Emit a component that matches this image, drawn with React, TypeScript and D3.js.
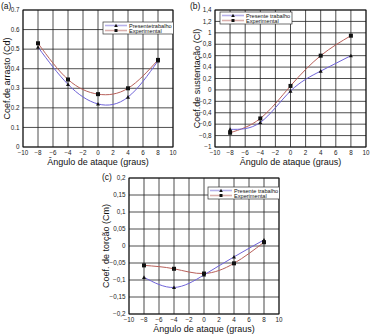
import React from "react";
import * as d3 from "d3";

const angles = [-8, -4, 0, 4, 8];
const cdPresente = [0.51, 0.32, 0.22, 0.255, 0.44];
const cdExperimental = [0.53, 0.345, 0.27, 0.3, 0.445];
const clPresente = [-0.69, -0.57, -0.02, 0.33, 0.6];
const clExperimental = [-0.75, -0.5, 0.07, 0.6, 0.95];
const cmPresente = [-0.092, -0.122, -0.085, -0.032, 0.018];
const cmExperimental = [-0.057, -0.067, -0.081, -0.051, 0.011];

const xTicks = [-10, -8, -6, -4, -2, 0, 2, 4, 6, 8, 10];
const cdTicks = [0, 0.1, 0.2, 0.3, 0.4, 0.5, 0.6, 0.7];
const cdTickLabels = ["0", "0.1", "0.2", "0.3", "0.4", "0.5", "0.6", "0.7"];
const clTicks = [-1, -0.8, -0.6, -0.4, -0.2, 0, 0.2, 0.4, 0.6, 0.8, 1, 1.2, 1.4];
const clTickLabels = ["−1", "−0,8", "−0,6", "−0,4", "−0,2", "0", "0,2", "0,4", "0,6", "0,8", "1", "1,2", "1,4"];
const cmTicks = [-0.2, -0.15, -0.1, -0.05, 0, 0.05, 0.1, 0.15, 0.2];
const cmTickLabels = ["−0,2", "−0,15", "−0,1", "−0,05", "0", "0,05", "0,1", "0,15", "0,2"];

const seriesNames = ["Presente trabalho", "Experimental"];
const seriesNamesA = ["Presentetrabalho", "Experimental"];

const BLUE = "#6f63d8";
const RED = "#b8605a";
const FONT = "Liberation Sans, Arial, sans-serif";

type PanelProps = {
  label: string;
  left: number; right: number; top: number; bottom: number;
  yDomain: [number, number];
  yTicks: number[]; yTickLabels: string[];
  s1: number[]; s2: number[];
  yTitle: string;
  legend: { x: number; y: number; w: number; names: string[] };
  labelPos: [number, number];
  yTitleX: number;
  thick: number[];
};

function Panel(p: PanelProps) {
  const x = d3.scaleLinear().domain([-10, 10]).range([p.left, p.right]);
  const y = d3.scaleLinear().domain(p.yDomain).range([p.bottom, p.top]);
  const line = d3
    .line<number>()
    .x((_, i) => x(angles[i]))
    .y((d) => y(d))
    .curve(d3.curveNatural);
  const clipId = "clip" + p.label.replace(/[()]/g, "");
  const tri = (cx: number, cy: number, r: number) =>
    `M${cx},${cy - r}L${cx + r},${cy + r * 0.8}L${cx - r},${cy + r * 0.8}Z`;
  const lg = p.legend;
  return (
    <g>
      <defs>
        <clipPath id={clipId}>
          <rect x={p.left} y={p.top} width={p.right - p.left} height={p.bottom - p.top} />
        </clipPath>
      </defs>
      <rect x={p.left} y={p.top} width={p.right - p.left} height={p.bottom - p.top} fill="#fff" />
      {xTicks.map((t) => (
        <line key={"vx" + t} x1={x(t)} x2={x(t)} y1={p.top} y2={p.bottom}
          stroke={p.thick.includes(t) ? "#999" : "#222"} strokeWidth={p.thick.includes(t) ? 1.8 : 0.8} />
      ))}
      {p.yTicks.map((t) => (
        <line key={"hy" + t} x1={p.left} x2={p.right} y1={y(t)} y2={y(t)} stroke="#222" strokeWidth={0.8} />
      ))}
      <rect x={p.left} y={p.top} width={p.right - p.left} height={p.bottom - p.top} fill="none" stroke="#111" strokeWidth={0.9} />
      <g clipPath={`url(#${clipId})`}>
        <path d={line(p.s2) || ""} fill="none" stroke={RED} strokeWidth={1} />
        <path d={line(p.s1) || ""} fill="none" stroke={BLUE} strokeWidth={1} />
        {p.s2.map((v, i) => (
          <rect key={"m2" + i} x={x(angles[i]) - 2} y={y(v) - 2} width={4} height={4} fill="#111" />
        ))}
        {p.s1.map((v, i) => (
          <path key={"m1" + i} d={tri(x(angles[i]), y(v), 2)} fill="#111" />
        ))}
        <rect x={lg.x} y={lg.y} width={lg.w} height={12} fill="#fff" stroke="#333" strokeWidth={0.7} />
        <line x1={lg.x + 2} x2={lg.x + 24} y1={lg.y + 3.5} y2={lg.y + 3.5} stroke={BLUE} strokeOpacity={0.5} strokeWidth={1.6} />
        <line x1={lg.x + 2} x2={lg.x + 24} y1={lg.y + 8.5} y2={lg.y + 8.5} stroke={RED} strokeOpacity={0.5} strokeWidth={1.6} />
        <path d={tri(lg.x + 13, lg.y + 3.5, 1.8)} fill="#111" />
        <rect x={lg.x + 11.5} y={lg.y + 7} width={3} height={3} fill="#111" />
        <text x={lg.x + 26} y={lg.y + 5.5} fontSize={5.6} fontFamily={FONT} fill="#111">{lg.names[0]}</text>
        <text x={lg.x + 26} y={lg.y + 10.5} fontSize={5.6} fontFamily={FONT} fill="#111">{lg.names[1]}</text>
      </g>
      {xTicks.map((t) => (
        <text key={"xl" + t} x={x(t)} y={p.bottom + 8.3} fontSize={6.3} fontFamily={FONT} textAnchor="middle" fill="#222">
          {t < 0 ? "−" + Math.abs(t) : String(t)}
        </text>
      ))}
      {p.yTicks.map((t, i) => (
        <text key={"yl" + t} x={p.left - 3.5} y={y(t) + 2.2} fontSize={6.3} fontFamily={FONT} textAnchor="end" fill="#222">
          {p.yTickLabels[i]}
        </text>
      ))}
      <text x={(p.left + p.right) / 2} y={p.bottom + 17.5} fontSize={9} fontFamily={FONT} textAnchor="middle" fill="#111">
        Ângulo de ataque (graus)
      </text>
      <text transform={`translate(${p.yTitleX},${(p.top + p.bottom) / 2}) rotate(-90)`} fontSize={9} fontFamily={FONT} textAnchor="middle" fill="#111">
        {p.yTitle}
      </text>
      <text x={p.labelPos[0]} y={p.labelPos[1]} fontSize={8.5} fontFamily={FONT} fill="#111">{p.label}</text>
    </g>
  );
}

export default function App() {
  return (
    <svg width={370} height={335} style={{ position: "absolute", left: 0, top: 0, background: "#fff" }}>
      <Panel label="(a)" left={23} right={173} top={10} bottom={147} yDomain={[0, 0.7]}
        yTicks={cdTicks} yTickLabels={cdTickLabels} s1={cdPresente} s2={cdExperimental}
        yTitle="Coef.de arrasto (Cd)" legend={{ x: 103, y: 22, w: 72, names: seriesNamesA }}
        labelPos={[1, 9]} yTitleX={10} thick={[8]} />
      <Panel label="(b)" left={215} right={366} top={10} bottom={147} yDomain={[-1, 1.4]}
        yTicks={clTicks} yTickLabels={clTickLabels} s1={clPresente} s2={clExperimental}
        yTitle="Coef.de sustentação (Cl)" legend={{ x: 220, y: 12, w: 72, names: seriesNames }}
        labelPos={[190, 9]} yTitleX={200} thick={[-8]} />
      <Panel label="(c)" left={129} right={279} top={178} bottom={314} yDomain={[-0.2, 0.2]}
        yTicks={cmTicks} yTickLabels={cmTickLabels} s1={cmPresente} s2={cmExperimental}
        yTitle="Coef. de torção (Cm)" legend={{ x: 208, y: 187, w: 74, names: seriesNames }}
        labelPos={[102, 180]} yTitleX={109} thick={[-8, 8]} />
    </svg>
  );
}
